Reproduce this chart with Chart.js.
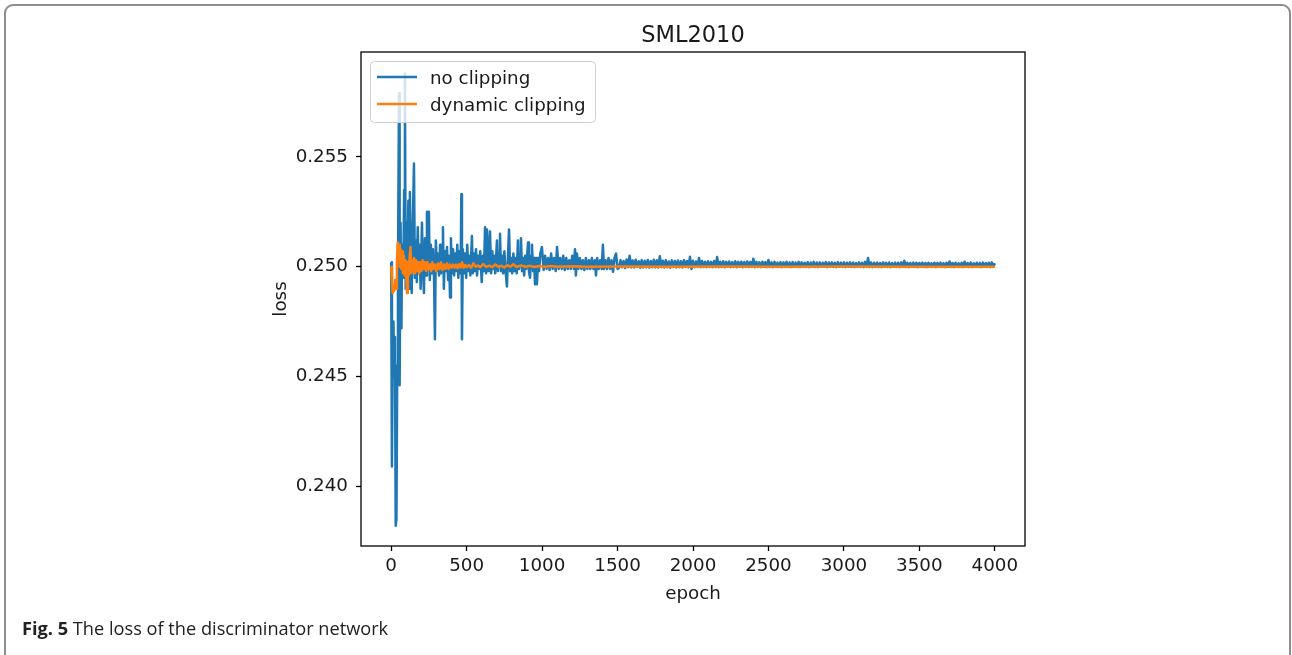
<!DOCTYPE html>
<html><head><meta charset="utf-8">
<script src="https://cdn.jsdelivr.net/npm/chart.js@4/dist/chart.umd.min.js"></script>
<style>
html,body{margin:0;padding:0;background:#fff;width:1292px;height:655px;overflow:hidden;}
#frame{position:absolute;left:4px;top:4px;width:1287px;height:690px;border:2px solid #8d8d8d;border-radius:9px;box-sizing:border-box;}
#cv{position:absolute;left:0;top:0;}
#caption{position:absolute;left:22px;top:616px;font-family:"Open Sans",sans-serif;font-size:18.2px;color:#222;white-space:nowrap;}
</style></head><body>
<div id="frame"></div>
<canvas id="cv" width="1292" height="655"></canvas>
<div id="caption"><b>Fig. 5</b> The loss of the discriminator network</div>
<script>
const chartTitle = 'SML2010';
const seriesNames = ['no clipping', 'dynamic clipping'];
const xTicks = [0, 500, 1000, 1500, 2000, 2500, 3000, 3500, 4000];
const yTicks = [0.240, 0.245, 0.250, 0.255];
const yTickLabels = ['0.240', '0.245', '0.250', '0.255'];

const noClipEpochs = [
  0,5,10,15,20,25,30,35,40,45,
  52,56,62,68,72,80,86,91,96,102,
  108,114,120,124,130,136,142,151,157,163,
  170,176,182,188,195,204,210,217,224,231,
  237,243,250,256,263,270,277,284,290,296,
  303,310,317,324,330,337,343,349,356,363,
  370,377,383,390,396,402,410,417,424,431,
  438,445,452,460,465,469,475,482,490,497,
  504,511,518,525,535,541,548,555,562,569,
  576,583,590,600,608,615,622,629,635,642,
  648,655,662,670,676,683,690,701,708,715,
  721,728,735,742,750,757,767,774,781,788,
  795,802,810,818,825,832,840,847,854,860,
  867,874,881,888,895,907,913,920,927,933,
  940,947,953,960,966,973,980,988,999,
  1010,1020,1030,1040,1050,1060,1070,1080,1090,1099,
  1110,1120,1130,1140,1150,1160,1170,1180,1190,1200,
  1210,1218,1224,1231,1240,1250,1260,1270,1280,1290,
  1300,1310,1320,1330,1340,1350,1357,1365,1375,1385,
  1395,1403,1410,1420,1430,1440,1450,1460,1470,1480,
  1490,1500,
  1510,1520,1530,1540,1550,1560,1570,1580,1590,1600,
  1610,1620,1630,1640,1650,1660,1670,1680,1690,1700,
  1710,1720,1730,1740,1750,1760,1770,1780,1790,1800,
  1810,1820,1830,1840,1850,1860,1870,1880,1890,1900,
  1910,1920,1930,1940,1950,1960,1970,1980,1990,2000,
  2010,2020,2030,2040,2050,2060,2070,2080,2090,2100,
  2110,2120,2130,2140,2150,2160,2170,2180,2190,2200,
  2210,2220,2230,2240,2250,2260,2270,2280,2290,2300,
  2310,2320,2330,2340,2350,2360,2370,2380,2390,2400,
  2410,2420,2430,2440,2450,2460,2470,2480,2490,2500,
  2510,2520,2530,2540,2550,2560,2570,2580,2590,2600,
  2610,2620,2630,2640,2650,2660,2670,2680,2690,2700,
  2710,2720,2730,2740,2750,2760,2770,2780,2790,2800,
  2810,2820,2830,2840,2850,2860,2870,2880,2890,2900,
  2910,2920,2930,2940,2950,2960,2970,2980,2990,3000,
  3010,3020,3030,3040,3050,3060,3070,3080,3090,3100,
  3110,3120,3130,3140,3150,3160,3170,3180,3190,3200,
  3210,3220,3230,3240,3250,3260,3270,3280,3290,3300,
  3310,3320,3330,3340,3350,3360,3370,3380,3390,3400,
  3410,3420,3430,3440,3450,3460,3470,3480,3490,3500,
  3510,3520,3530,3540,3550,3560,3570,3580,3590,3600,
  3610,3620,3630,3640,3650,3660,3670,3680,3690,3700,
  3710,3720,3730,3740,3750,3760,3770,3780,3790,3800,
  3810,3820,3830,3840,3850,3860,3870,3880,3890,3900,
  3910,3920,3930,3940,3950,3960,3970,3980,3990,4000
];
const noClipLoss = [
  0.2502,0.2409,0.2460,0.2475,0.2450,0.2468,0.2382,0.2385,0.2455,0.2500,
  0.2579,0.2446,0.2520,0.2472,0.2510,0.2495,0.2535,0.2588,0.2490,0.2520,
  0.2500,0.2530,0.2490,0.2534,0.2500,0.2488,0.2515,0.2547,0.2495,0.2512,
  0.2493,0.2518,0.2497,0.2510,0.2490,0.2520,0.2500,0.2488,0.2513,0.2496,
  0.2525,0.2500,0.2525,0.2494,0.2510,0.2497,0.2508,0.2495,0.2467,0.2512,
  0.2498,0.2506,0.2496,0.2510,0.2497,0.2505,0.2518,0.2490,0.2507,0.2498,
  0.2509,0.2494,0.2505,0.2486,0.2513,0.2497,0.2508,0.2496,0.2506,0.2498,
  0.2510,0.2495,0.2507,0.2497,0.2533,0.2467,0.2508,0.2497,0.2506,0.2495,
  0.2510,0.2498,0.2505,0.2496,0.2514,0.2497,0.2506,0.2498,0.2508,0.2496,
  0.2505,0.2499,0.2507,0.2493,0.2505,0.2498,0.2518,0.2497,0.2517,0.2498,
  0.2506,0.2516,0.2497,0.2507,0.2499,0.2505,0.2497,0.2512,0.2498,0.2506,
  0.2515,0.2498,0.2505,0.2497,0.2507,0.2499,0.2491,0.2505,0.2517,0.2498,
  0.2504,0.2497,0.2506,0.2498,0.2504,0.2497,0.2512,0.2499,0.2505,0.2513,
  0.2498,0.2504,0.2496,0.2505,0.2499,0.2511,0.2498,0.2495,0.2505,0.2510,
  0.2498,0.2504,0.2492,0.2504,0.2492,0.2504,0.2498,0.2506,0.2509,
  0.24985,0.2505,0.2499,0.2504,0.24985,0.2506,0.2499,0.2504,0.2498,0.2509,
  0.2499,0.2504,0.2499,0.2505,0.24985,0.2504,0.2499,0.2503,0.2499,0.2505,
  0.2499,0.2508,0.2496,0.2506,0.2499,0.2504,0.2499,0.2503,0.24985,0.2504,
  0.2499,0.2503,0.2499,0.2504,0.2499,0.2503,0.2496,0.2504,0.2499,0.2503,
  0.2499,0.2510,0.2499,0.2503,0.2499,0.2504,0.2499,0.2503,0.24977,0.2504,
  0.2506,0.2499,
  0.24995,0.25030,0.24998,0.25026,0.24994,0.25033,0.24998,0.25050,0.24997,0.25028,
  0.24996,0.25032,0.24999,0.25025,0.24995,0.25030,0.24997,0.25027,0.24998,0.25031,
  0.24996,0.25026,0.24998,0.25032,0.24997,0.25029,0.24996,0.25048,0.24998,0.25027,
  0.24997,0.25030,0.24998,0.25024,0.24996,0.25029,0.24999,0.25026,0.24997,0.25028,
  0.24998,0.25025,0.24997,0.25030,0.24999,0.25026,0.24998,0.25045,0.24990,0.25027,
  0.24998,0.25024,0.24999,0.25040,0.24998,0.25026,0.24999,0.25023,0.24998,0.25025,
  0.24999,0.25022,0.24998,0.25026,0.24999,0.25044,0.24998,0.25023,0.24999,0.25025,
  0.24998,0.25022,0.25000,0.25024,0.24998,0.25021,0.24999,0.25025,0.24998,0.25022,
  0.25000,0.25023,0.24998,0.25021,0.24999,0.25024,0.24998,0.25022,0.24999,0.25036,
  0.24998,0.25022,0.24999,0.25020,0.24998,0.25023,0.25000,0.25021,0.24998,0.25031,
  0.24999,0.25020,0.24998,0.25022,0.25000,0.25019,0.24999,0.25021,0.24998,0.25020,
  0.25000,0.25022,0.24999,0.25019,0.24998,0.25021,0.25000,0.25019,0.24999,0.25022,
  0.24998,0.25020,0.25000,0.25018,0.24999,0.25021,0.24998,0.25019,0.25000,0.25022,
  0.24999,0.25019,0.24998,0.25020,0.25000,0.25018,0.24999,0.25021,0.24998,0.25019,
  0.25000,0.25020,0.24999,0.25018,0.24998,0.25021,0.25000,0.25019,0.24999,0.25020,
  0.24998,0.25018,0.25000,0.25020,0.24999,0.25019,0.24998,0.25017,0.25000,0.25020,
  0.24999,0.25018,0.24998,0.25022,0.25000,0.25040,0.24999,0.25019,0.24998,0.25018,
  0.25000,0.25019,0.24999,0.25017,0.24998,0.25020,0.25000,0.25018,0.24999,0.25019,
  0.24998,0.25017,0.25000,0.25019,0.24999,0.25018,0.24998,0.25020,0.25000,0.25027,
  0.24999,0.25018,0.24998,0.25017,0.25000,0.25019,0.24999,0.25018,0.24998,0.25017,
  0.25000,0.25019,0.24999,0.25017,0.24998,0.25018,0.25000,0.25016,0.24999,0.25018,
  0.24998,0.25017,0.25000,0.25019,0.24999,0.25016,0.24998,0.25018,0.25000,0.25024,
  0.24999,0.25017,0.24998,0.25018,0.25000,0.25016,0.24999,0.25018,0.24998,0.25023,
  0.25000,0.25017,0.24999,0.25019,0.24998,0.25016,0.25000,0.25018,0.24999,0.25017,
  0.24998,0.25019,0.25000,0.25017,0.24999,0.25018,0.24998,0.25020,0.25000,0.25016
];

const dynEpochs = [
  0,5,10,15,20,26,32,38,44,48,
  52,57,62,67,72,78,84,90,96,101,
  105,110,116,122,128,134,140,146,152,158,
  165,172,179,186,193,200,208,216,224,232,
  240,248,256,264,272,280,290,300,310,320,
  330,340,350,360,370,380,390,400,410,420,
  430,440,450,460,470,480,490,500,515,530,
  545,560,575,590,610,630,650,670,690,710,
  730,750,770,790,810,830,860,890,920,950,
  980,1020,1060,1100,1200,1300,1500,1800,2200,2600,
  3000,3500,4000
];
const dynLoss = [
  0.2500,0.2492,0.2488,0.2491,0.2489,0.2494,0.2490,0.2503,0.2511,0.2504,
  0.2510,0.2500,0.2508,0.2499,0.2507,0.2497,0.2505,0.2496,0.2503,0.2494,
  0.2488,0.2502,0.2496,0.2504,0.2509,0.2497,0.2503,0.2498,0.2504,0.2497,
  0.2503,0.2498,0.2502,0.2497,0.2502,0.2498,0.2503,0.2499,0.2502,0.2498,
  0.2502,0.2499,0.2501,0.2498,0.2502,0.2499,0.2501,0.2498,0.25015,0.2499,
  0.2502,0.24985,0.2501,0.2499,0.25015,0.2499,0.2501,0.24995,0.2501,0.24995,
  0.2501,0.24993,0.25012,0.24997,0.2502,0.24995,0.25008,0.24998,0.25008,0.24996,
  0.25015,0.25000,0.25006,0.24998,0.25012,0.24999,0.25005,0.24998,0.25010,0.25000,
  0.25004,0.24997,0.25007,0.25000,0.25012,0.24999,0.25006,0.25000,0.25004,0.24999,
  0.25003,0.25000,0.25003,0.25000,0.25002,0.25000,0.25001,0.25000,0.25001,0.25000,
  0.25001,0.25000,0.25000
];

const FONT = "'DejaVu Sans', sans-serif";
const TXT = '#1a1a1a';
const BLUE = '#1f77b4';
const ORANGE = '#ff7f0e';

const decorPlugin = {
  id: 'decor',
  afterDatasetsDraw(chart) {
    const {ctx, chartArea: a} = chart;
    ctx.save();
    ctx.strokeStyle = '#000';
    ctx.lineWidth = 1.3;
    ctx.strokeRect(a.left, a.top, a.right - a.left, a.bottom - a.top);
    const lx = a.left + 9.5, ly = a.top + 9.5, lw = 225, lh = 61, r = 4;
    ctx.beginPath();
    ctx.moveTo(lx + r, ly);
    ctx.lineTo(lx + lw - r, ly); ctx.quadraticCurveTo(lx + lw, ly, lx + lw, ly + r);
    ctx.lineTo(lx + lw, ly + lh - r); ctx.quadraticCurveTo(lx + lw, ly + lh, lx + lw - r, ly + lh);
    ctx.lineTo(lx + r, ly + lh); ctx.quadraticCurveTo(lx, ly + lh, lx, ly + lh - r);
    ctx.lineTo(lx, ly + r); ctx.quadraticCurveTo(lx, ly, lx + r, ly);
    ctx.closePath();
    ctx.fillStyle = 'rgba(255,255,255,0.8)';
    ctx.fill();
    ctx.strokeStyle = '#d0d0d0';
    ctx.lineWidth = 1;
    ctx.stroke();
    const rows = [[seriesNames[0], BLUE, 77], [seriesNames[1], ORANGE, 104]];
    ctx.font = '18.3px ' + FONT;
    ctx.textBaseline = 'alphabetic';
    ctx.textAlign = 'left';
    rows.forEach(([t, c, y]) => {
      const yy = a.top + (y - 52);
      ctx.strokeStyle = c; ctx.lineWidth = 2.5;
      ctx.beginPath(); ctx.moveTo(a.left + 16, yy); ctx.lineTo(a.left + 56, yy); ctx.stroke();
      ctx.fillStyle = TXT;
      ctx.fillText(t, a.left + 69, yy + 6.5);
    });
    ctx.font = '22.5px ' + FONT;
    ctx.textAlign = 'center';
    ctx.fillText(chartTitle, (a.left + a.right) / 2, 42);
    ctx.restore();
  }
};

new Chart(document.getElementById('cv'), {
  type: 'line',
  data: {
    datasets: [
      {label: seriesNames[1], data: dynEpochs.map((e, i) => ({x: e, y: dynLoss[i]})),
       borderColor: ORANGE, borderWidth: 2.5, pointRadius: 0, order: 0, tension: 0,
       borderJoinStyle: 'round', fill: false},
      {label: seriesNames[0], data: noClipEpochs.map((e, i) => ({x: e, y: noClipLoss[i]})),
       borderColor: BLUE, borderWidth: 2.5, pointRadius: 0, order: 1, tension: 0,
       borderJoinStyle: 'round', fill: false}
    ]
  },
  options: {
    responsive: false, animation: false, devicePixelRatio: 1,
    layout: {padding: {left: 260, right: 267, top: 52, bottom: 49}},
    plugins: {legend: {display: false}, tooltip: {enabled: false}, title: {display: false}},
    scales: {
      x: {
        type: 'linear', min: -200, max: 4200,
        afterBuildTicks: s => { s.ticks = xTicks.map(v => ({value: v})); },
        afterFit: s => { s.height = 60; },
        grid: {display: true, drawOnChartArea: false, drawTicks: true, tickLength: 5, tickWidth: 1.3, tickColor: '#000'},
        border: {display: false},
        ticks: {font: {family: FONT, size: 18.3}, color: TXT, padding: 4, maxRotation: 0, autoSkip: false,
                callback: v => String(v)},
        title: {display: true, text: 'epoch', font: {family: FONT, size: 18.3}, color: TXT, padding: {top: 0, bottom: 1}}
      },
      y: {
        type: 'linear', min: 0.23728, max: 0.25978,
        afterBuildTicks: s => { s.ticks = yTicks.map(v => ({value: v})); },
        afterFit: s => { s.width = 101; },
        grid: {display: true, drawOnChartArea: false, drawTicks: true, tickLength: 5, tickWidth: 1.3, tickColor: '#000'},
        border: {display: false},
        ticks: {font: {family: FONT, size: 18.3}, color: TXT, padding: 8, autoSkip: false,
                callback: (v, i) => yTickLabels[i]},
        title: {display: true, text: 'loss', font: {family: FONT, size: 18.3}, color: TXT, padding: {top: 10, bottom: 0}}
      }
    }
  },
  plugins: [decorPlugin]
});
</script>
</body></html>
